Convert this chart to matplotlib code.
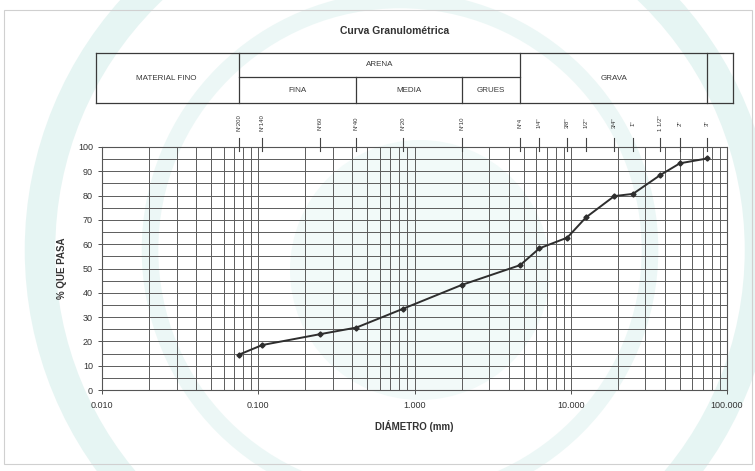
import numpy as np
import matplotlib
matplotlib.use("Agg")
import matplotlib.pyplot as plt
from matplotlib import transforms
from matplotlib.lines import Line2D
from matplotlib.patches import Circle
from matplotlib.ticker import FixedLocator, FuncFormatter, NullFormatter

plt.rcParams['font.family'] = ['Liberation Sans', 'DejaVu Sans']

# sieve openings (mm) and percent passing
diametro = [0.075, 0.106, 0.25, 0.425, 0.85, 2.0, 4.75, 6.3, 9.5, 12.5, 19.0, 25.0, 37.5, 50.0, 75.0]
pasa = [14.5, 18.5, 23.0, 25.7, 33.5, 43.2, 51.4, 58.3, 62.7, 71.0, 79.8, 80.7, 88.5, 93.3, 95.3]
tamices = ['N°200', 'N°140', 'N°60', 'N°40', 'N°20', 'N°10', 'N°4', '1/4"', '3/8"', '1/2"',
           '3/4"', '1"', '1 1/2"', '2"', '3"']

# soil classes on top of the chart: limits in mm
limites_arena = [0.075, 4.75]
limites_sub = [0.075, 0.425, 2.0, 4.75]
sub_arena = ['FINA', 'MEDIA', 'GRUES']
limite_grava = 75.0

W, H = 755, 471
fig = plt.figure(figsize=(W / 100, H / 100), dpi=100)


def fy(py):
    return 1 - py / H


def fx(px):
    return px / W


# faint watermark behind everything
wm = fig.add_axes([0, 0, 1, 1], zorder=-5)
wm.set_xlim(0, W)
wm.set_ylim(H, 0)
wm.axis('off')
wm.add_patch(Circle((400, 250), 360, fill=False, lw=22, ec='#e4f4f2', alpha=0.9))
wm.add_patch(Circle((400, 250), 250, fill=False, lw=12, ec='#e8f6f4', alpha=0.8))
wm.add_patch(Circle((420, 270), 130, fill=True, ec='none', fc='#eff9f8', alpha=0.8))

# outer frame
fig.add_artist(plt.Rectangle((fx(4), fy(464)), fx(748), fy(10) - fy(464), fill=False,
                             ec='#d0d0d0', lw=0.8, transform=fig.transFigure))

ax = fig.add_axes([fx(102), fy(390), fx(727) - fx(102), fy(147) - fy(390)])
ax.patch.set_alpha(0)
ax.set_xscale('log')
ax.set_xlim(0.01, 100)
ax.set_ylim(0, 100)

ax.yaxis.set_major_locator(FixedLocator(np.arange(0, 101, 10)))
ax.yaxis.set_minor_locator(FixedLocator(np.arange(5, 100, 10)))
ax.xaxis.set_major_formatter(FuncFormatter(lambda v, p: '%.3f' % v))
ax.xaxis.set_minor_formatter(NullFormatter())
ax.grid(True, which='both', axis='both', color='#5c5c5c', lw=0.7)
ax.tick_params(axis='both', which='both', labelsize=6.5, colors='#333333', length=3, width=0.6)
ax.tick_params(axis='x', which='major', pad=5)
ax.tick_params(axis='x', which='minor', length=0)
ax.tick_params(axis='y', which='minor', length=0)
for s in ax.spines.values():
    s.set_color('#555555')
    s.set_linewidth(0.8)

ax.plot(diametro, pasa, color='#2e2e2e', lw=1.4, marker='D', ms=2.6, zorder=5)

ax.set_xlabel('DIÁMETRO (mm)', fontsize=7, fontweight='bold', color='#333333', labelpad=7)
ax.set_ylabel('% QUE PASA', fontsize=7, fontweight='bold', color='#333333', labelpad=8)

fig.text(fx(395), fy(31), 'Curva Granulométrica', fontsize=7.5, fontweight='bold',
         ha='center', va='center', color='#333333')

# classification table above the plot
bt = transforms.blended_transform_factory(ax.transData, fig.transFigure)
t_top, t_mid, t_bot = fy(53), fy(77), fy(103)
tx0, tx1 = fx(96), fx(733)
lc = '#3a3a3a'
lw = 0.9
for yy in (t_top, t_bot):
    fig.add_artist(Line2D([tx0, tx1], [yy, yy], color=lc, lw=lw, transform=fig.transFigure))
for xx in (tx0, tx1):
    fig.add_artist(Line2D([xx, xx], [t_bot, t_top], color=lc, lw=lw, transform=fig.transFigure))
for d in limites_arena + [limite_grava]:
    fig.add_artist(Line2D([d, d], [t_bot, t_top], color=lc, lw=lw, transform=bt))
fig.add_artist(Line2D(limites_arena, [t_mid, t_mid], color=lc, lw=lw, transform=bt))
for d in limites_sub[1:-1]:
    fig.add_artist(Line2D([d, d], [t_bot, t_mid], color=lc, lw=lw, transform=bt))

tkw = dict(fontsize=5.8, ha='center', va='center', color='#3a3a3a')
fig.text((tx0 + fx(237)) / 2, (t_top + t_bot) / 2, 'MATERIAL FINO', **tkw)
fig.text(np.sqrt(limites_arena[0] * limites_arena[1]), (t_top + t_mid) / 2, 'ARENA',
         transform=bt, **tkw)
for a, b, name in zip(limites_sub[:-1], limites_sub[1:], sub_arena):
    fig.text(np.sqrt(a * b), (t_mid + t_bot) / 2, name, transform=bt, **tkw)
fig.text(np.sqrt(limites_arena[1] * limite_grava), (t_top + t_bot) / 2, 'GRAVA',
         transform=bt, **tkw)

# sieve labels and markers
for d, name in zip(diametro, tamices):
    fig.text(d, fy(123), name, rotation=90, transform=bt, fontsize=4.3, ha='center',
             va='center', color='#333333')
    fig.add_artist(Line2D([d, d], [fy(138), fy(151)], color='#444444', lw=0.8, transform=bt))

fig.savefig('out.png', dpi=100)
